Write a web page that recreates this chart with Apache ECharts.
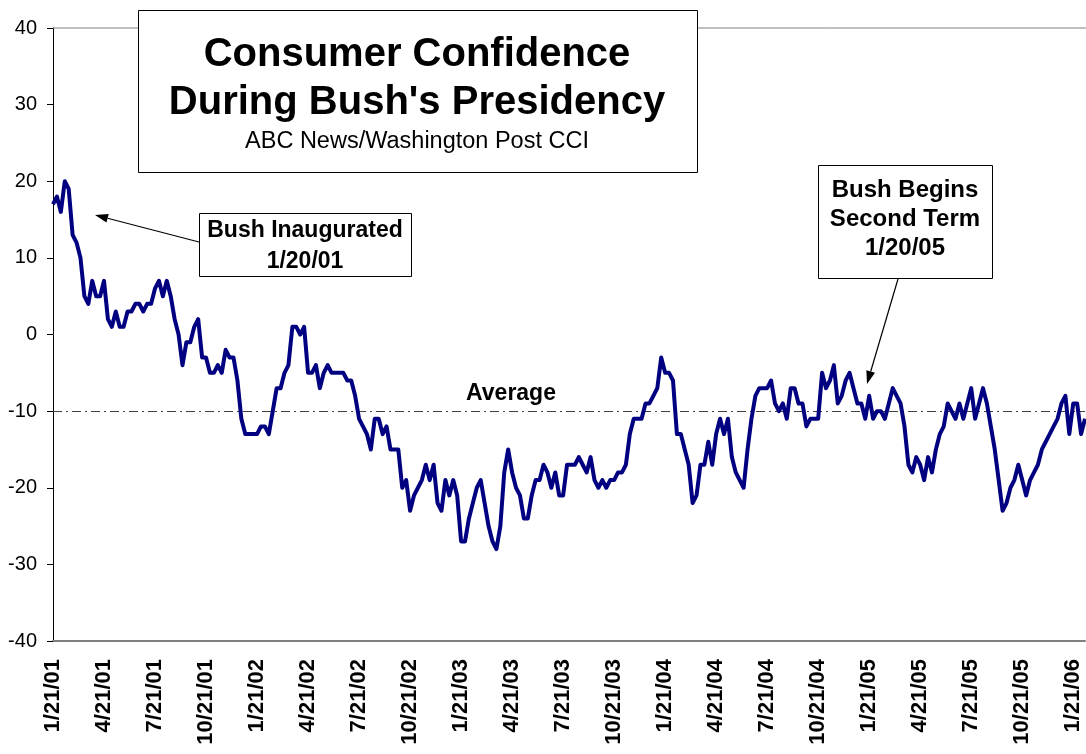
<!DOCTYPE html>
<html>
<head>
<meta charset="utf-8">
<script src="https://cdn.jsdelivr.net/npm/echarts@6/dist/echarts.min.js"></script>
<style>
html,body{margin:0;padding:0;background:#fff;}
#chart{width:1086px;height:754px;}
</style>
</head>
<body>
<div id="chart"></div>
<script>
// Weekly CCI values starting 1/21/01
var cciValues = [
 17,18,16,20,19,13,12,10,5,4,
 7,5,5,7,2,1,3,1,1,3,
 3,4,4,3,4,4,6,7,5,7,
 5,2,0,-4,-1,-1,1,2,-3,-3,
 -5,-5,-4,-5,-2,-3,-3,-6,-11,-13,
 -13,-13,-13,-12,-12,-13,-10,-7,-7,-5,
 -4,1,1,0,1,-5,-5,-4,-7,-5,
 -4,-5,-5,-5,-5,-6,-6,-8,-11,-12,
 -13,-15,-11,-11,-13,-12,-15,-15,-15,-20,
 -19,-23,-21,-20,-19,-17,-19,-17,-22,-23,
 -19,-21,-19,-21,-27,-27,-24,-22,-20,-19,
 -22,-25,-27,-28,-25,-18,-15,-18,-20,-21,
 -24,-24,-21,-19,-19,-17,-18,-20,-18,-21,
 -21,-17,-17,-17,-16,-17,-18,-16,-19,-20,
 -19,-20,-19,-19,-18,-18,-17,-13,-11,-11,
 -11,-9,-9,-8,-7,-3,-5,-5,-6,-13,
 -13,-15,-17,-22,-21,-17,-17,-14,-17,-13,
 -11,-13,-11,-16,-18,-19,-20,-15,-11,-8,
 -7,-7,-7,-6,-9,-10,-9,-11,-7,-7,
 -9,-9,-12,-11,-11,-11,-5,-7,-6,-4,
 -9,-8,-6,-5,-7,-9,-9,-11,-8,-11,
 -10,-10,-11,-9,-7,-8,-9,-12,-17,-18,
 -16,-17,-19,-16,-18,-15,-13,-12,-9,-10,
 -11,-9,-11,-9,-7,-11,-9,-7,-9,-12,
 -15,-19,-23,-22,-20,-19,-17,-19,-21,-19,
 -18,-17,-15,-14,-13,-12,-11,-9,-8,-13,
 -9,-9,-13,-11
];
var averageValue = -10;
var tickLabels = ['1/21/01','4/21/01','7/21/01','10/21/01','1/21/02','4/21/02','7/21/02','10/21/02',
  '1/21/03','4/21/03','7/21/03','10/21/03','1/21/04','4/21/04','7/21/04','10/21/04',
  '1/21/05','4/21/05','7/21/05','10/21/05','1/21/06'];
var yTicks = [-40,-30,-20,-10,0,10,20,30,40];

// weekly category dates
var categories = [];
var start = new Date(2001, 0, 21);
for (var i = 0; i < cciValues.length; i++) {
  var d = new Date(start.getTime() + i * 7 * 86400000);
  categories.push((d.getMonth()+1) + '/' + d.getDate() + '/' + String(d.getFullYear()).slice(2));
}

var FONT = "'Liberation Sans', Arial, sans-serif";
var chart = echarts.init(document.getElementById('chart'), null, {renderer:'canvas'});

function arrow(x1,y1,x2,y2){
  var dx=x2-x1, dy=y2-y1, L=Math.sqrt(dx*dx+dy*dy), ux=dx/L, uy=dy/L;
  var bx=x2-13*ux, by=y2-13*uy, px=-uy*4.5, py=ux*4.5;
  return [
    {type:'line', shape:{x1:x1,y1:y1,x2:bx,y2:by}, style:{stroke:'#000', lineWidth:1.2}, z:100},
    {type:'polygon', shape:{points:[[x2,y2],[bx+px,by+py],[bx-px,by-py]]}, style:{fill:'#000'}, z:100}
  ];
}

var graphics = [
  {type:'line', shape:{x1:53,y1:28,x2:1086,y2:28}, style:{stroke:'#808080', lineWidth:1}, z:1},
  {type:'rect', shape:{x:138.5,y:10.5,width:559,height:162}, style:{fill:'#fff', stroke:'#000', lineWidth:1}, z:90},
  {type:'text', x:417, y:55, style:{text:'Consumer Confidence', font:"bold 40px "+FONT, fill:'#000', textAlign:'center', textVerticalAlign:'middle'}, z:91},
  {type:'text', x:417, y:103, style:{text:"During Bush's Presidency", font:"bold 40px "+FONT, fill:'#000', textAlign:'center', textVerticalAlign:'middle'}, z:91},
  {type:'text', x:417, y:142, style:{text:'ABC News/Washington Post CCI', font:"23.5px "+FONT, fill:'#000', textAlign:'center', textVerticalAlign:'middle'}, z:91},
  {type:'rect', shape:{x:199.5,y:213.5,width:212,height:63}, style:{fill:'#fff', stroke:'#000', lineWidth:1}, z:90},
  {type:'text', x:305, y:231, style:{text:'Bush Inaugurated', font:"bold 23px "+FONT, fill:'#000', textAlign:'center', textVerticalAlign:'middle'}, z:91},
  {type:'text', x:305, y:262, style:{text:'1/20/01', font:"bold 23px "+FONT, fill:'#000', textAlign:'center', textVerticalAlign:'middle'}, z:91},
  {type:'rect', shape:{x:818.5,y:165.5,width:174,height:113}, style:{fill:'#fff', stroke:'#000', lineWidth:1}, z:90},
  {type:'text', x:905, y:190, style:{text:'Bush Begins', font:"bold 24px "+FONT, fill:'#000', textAlign:'center', textVerticalAlign:'middle'}, z:91},
  {type:'text', x:905, y:219, style:{text:'Second Term', font:"bold 24px "+FONT, fill:'#000', textAlign:'center', textVerticalAlign:'middle'}, z:91},
  {type:'text', x:905, y:248, style:{text:'1/20/05', font:"bold 24px "+FONT, fill:'#000', textAlign:'center', textVerticalAlign:'middle'}, z:91},
  {type:'text', x:511, y:394, style:{text:'Average', font:"bold 23px "+FONT, fill:'#000', textAlign:'center', textVerticalAlign:'middle'}, z:91}
].concat(arrow(199,242,95,215)).concat(arrow(898,279,867,384));

chart.setOption({
  animation:false,
  backgroundColor:'#fff',
  grid:{left:53, right:1, top:28, bottom:113, containLabel:false},
  xAxis:{
    type:'category', data:categories, boundaryGap:false,
    axisLine:{show:true, onZero:false, lineStyle:{color:'#808080', width:2}},
    axisTick:{show:false},
    splitLine:{show:false},
    axisLabel:{
      rotate:90, margin:18, color:'#000', fontFamily:FONT, fontWeight:'bold', fontSize:22,
      interval:function(idx){return idx % 13 === 0;},
      formatter:function(v, idx){ return tickLabels[Math.round(idx/13)] || ''; }
    }
  },
  yAxis:{
    type:'value', min:yTicks[0], max:yTicks[yTicks.length-1], interval:10,
    axisLine:{show:true, lineStyle:{color:'#000', width:1}},
    axisTick:{show:true, length:6, inside:false, lineStyle:{color:'#000'}},
    splitLine:{show:false},
    axisLabel:{color:'#000', fontFamily:FONT, fontSize:20, margin:16}
  },
  series:[{
    type:'line', data:cciValues, symbol:'none', smooth:false,
    lineStyle:{color:'#000080', width:4, join:'round'},
    markLine:{
      silent:true, symbol:'none', label:{show:false},
      lineStyle:{color:'#404040', width:1, type:[9,4,2,4]},
      data:[{yAxis:averageValue}]
    },
    z:5
  }],
  graphic:graphics
});
</script>
</body>
</html>
